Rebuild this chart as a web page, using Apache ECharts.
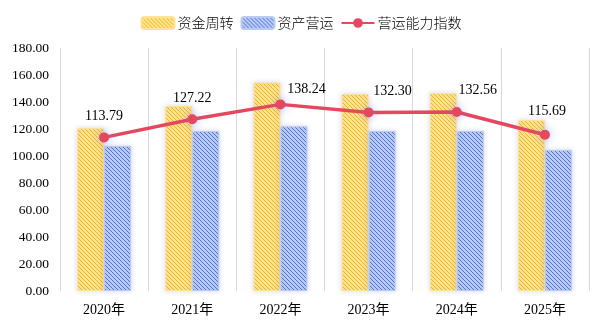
<!DOCTYPE html>
<html><head><meta charset="utf-8">
<script src="https://cdn.jsdelivr.net/npm/echarts@6/dist/echarts.min.js"></script>
<style>html,body{margin:0;padding:0;background:#fff}#c{width:602px;height:327px}</style>
</head><body><div id="c"></div>
<script>
var categories = ['2020年','2021年','2022年','2023年','2024年','2025年'];
var fundTurnover = [120.5, 137, 154.5, 146, 146.5, 126.5];
var assetOperation = [107.5, 118.5, 122, 118.5, 118.5, 104.5];
var operationIndex = [113.79, 127.22, 138.24, 132.30, 132.56, 115.69];
var labelOffsets = [[0,-4],[0,-4],[26,2],[24,-4],[21,-5],[2,-6]];

function makePattern(bg, fg) {
  var c = document.createElement('canvas');
  c.width = 4; c.height = 4;
  var ctx = c.getContext('2d');
  ctx.fillStyle = bg; ctx.fillRect(0,0,4,4);
  ctx.fillStyle = fg;
  for (var i = 0; i < 4; i++) { ctx.fillRect(i, i, 1, 1); }
  return {image: c, repeat: 'repeat'};
}
var yellowPat = makePattern('#FFE394', '#F2BA10');
var bluePat = makePattern('#B9CBF1', '#5272DC');

var chart = echarts.init(document.getElementById('c'), null, {renderer:'canvas'});
var serif = "'Liberation Serif','Times New Roman','Noto Sans CJK SC',serif";
chart.setOption({
  animation: false,
  legend: {
    top: 11, left: 'center', itemWidth: 33, itemHeight: 12, itemGap: 7,
    textStyle: {fontSize: 14, color: '#000', fontFamily: "'Noto Sans CJK SC',sans-serif", fontWeight: 300, padding:[0,0,0,-2]},
    data: ['资金周转','资产营运','营运能力指数']
  },
  grid: {left: 60, right: 13, top: 48, bottom: 36},
  xAxis: {
    type: 'category', data: categories, boundaryGap: true,
    axisLine: {show: false}, axisTick: {show: false},
    axisLabel: {color: '#000', fontSize: 14, fontFamily: serif, margin: 12},
    splitLine: {show: true, lineStyle: {color: '#D9D9D9', width: 1}}
  },
  yAxis: {
    type: 'value', min: 0, max: 180, interval: 20,
    axisLine: {show: false}, axisTick: {show: false}, splitLine: {show: false},
    axisLabel: {color: '#000', fontSize: 13.5, fontFamily: serif, margin: 11,
      formatter: function(v){ return v.toFixed(2); }}
  },
  series: [
    {name: '资金周转', type: 'bar', data: fundTurnover, barWidth: 27, barGap: '0%',
      itemStyle: {color: yellowPat, borderColor: '#FFE394', borderWidth: 1,
        shadowBlur: 5, shadowColor: 'rgba(120,130,200,0.3)'}},
    {name: '资产营运', type: 'bar', data: assetOperation, barWidth: 27,
      itemStyle: {color: bluePat, borderColor: '#B9CBF1', borderWidth: 1,
        shadowBlur: 5, shadowColor: 'rgba(120,130,200,0.3)'}},
    {name: '营运能力指数', type: 'line', z: 5,
      data: operationIndex.map(function(v, i){
        return {value: v, label: {offset: labelOffsets[i]}};
      }),
      symbol: 'circle', symbolSize: 10,
      lineStyle: {color: '#E5485E', width: 3.5},
      itemStyle: {color: '#E5485E', shadowBlur: 10, shadowColor: 'rgba(100,120,255,0.55)'},
      label: {show: true, position: 'top', color: '#000', fontSize: 14, fontFamily: serif,
        formatter: function(p){ return p.value.toFixed(2); }}
    }
  ]
});
</script></body></html>
